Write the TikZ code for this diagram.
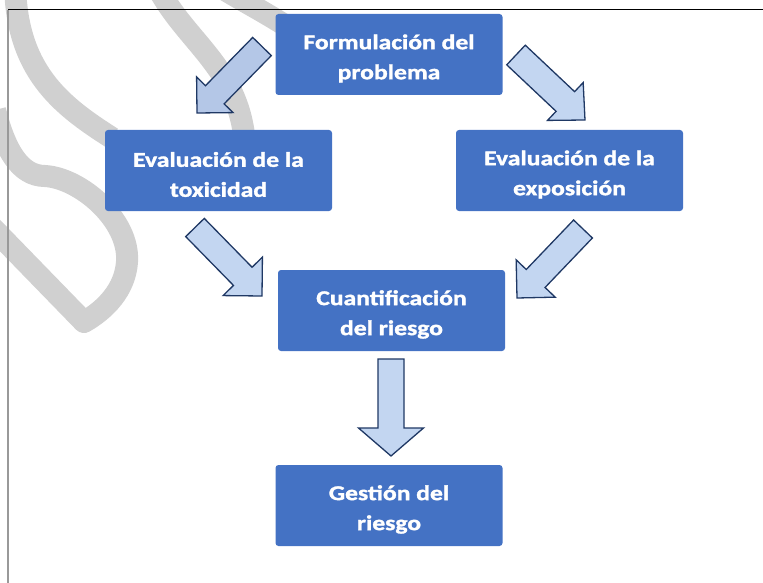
\documentclass[tikz,border=0pt]{standalone}
\usepackage{fontspec}
\setmainfont{Carlito}[FakeStretch=1.22, FakeBold=1.6]
\usetikzlibrary{calc}
\definecolor{boxblue}{HTML}{4472C4}
\definecolor{arrA}{HTML}{B4C7E7}
\definecolor{arrB}{HTML}{C3D6F1}
\definecolor{arrline}{HTML}{1F3864}
\definecolor{wmark}{HTML}{D0D0D0}
\newcommand\blockarr[7]{%
  \coordinate (#1s) at #2;
  \coordinate (#1t) at #3;
  \coordinate (#1h) at ($(#1t)!#6!(#1s)$);
  \draw[barrow, fill=#7]
    ($(#1s)!#4!90:(#1t)$) -- ($(#1h)!#4!90:(#1t)$) -- ($(#1h)!#5!90:(#1t)$)
    -- (#1t) -- ($(#1h)!#5!-90:(#1t)$) -- ($(#1h)!#4!-90:(#1t)$)
    -- ($(#1s)!#4!-90:(#1t)$) -- cycle;
}
\begin{document}
\begin{tikzpicture}[x=1pt,y=-1pt,
  box/.style={fill=boxblue, rounded corners=3pt, minimum width=227pt,
    minimum height=81pt, inner sep=0pt},
  lbl/.style={align=center, text=white, inner sep=0pt,
    font=\fontsize{21}{30}\selectfont\bfseries},
  barrow/.style={draw=arrline, line width=1.3pt, line join=miter},
  wm/.style={draw=wmark, line width=22pt, line cap=butt}]
\useasboundingbox (0,0) rectangle (763,583);
\begin{scope}
\clip (0,0) rectangle (763,583);
\path[wm] (15,-20) .. controls (15,70) and (60,105) .. (112,138);
\path[wm, line join=round] (-5,110) .. controls (5,150) and (20,176) .. (45,176)
  .. controls (80,178) and (130,220) .. (127,262)
  .. controls (125,290) and (105,310) .. (84,322) -- (-20,215);
\path[wm] (160,-8) .. controls (190,45) and (240,70) .. (245,145);
\path[wm] (225,-10) .. controls (250,5) and (270,15) .. (300,35);
\end{scope}
\draw[gray!80, line width=1.2pt] (8,10) -- (8,583);
\draw[black, line width=1pt] (8,10) -- (763,10);
\node[box] (form) at (389,54.5) {};
\node[box] (tox) at (218.5,170.5) {};
\node[box] (expo) at (569.5,170.5) {};
\node[box] (cuant) at (391.5,310.5) {};
\node[box] (gest) at (389,505.5) {};
\node[lbl] (formT) at ($(form.center)+(0,4)$) {Formulación del\\problema};
\node[lbl] (toxT) at ($(tox.center)+(0,4)$) {Evaluación de la\\toxicidad};
\node[lbl] (expoT) at ($(expo.center)+(0,4)$) {Evaluación de la\\exposición};
\node[lbl] (cuantT) at ($(cuant.center)+(0,4)$) {Cuantificación\\del riesgo};
\node[lbl] (gestT) at ($(gest.center)+(0,4)$) {Gestión del\\riesgo};
\blockarr{a1}{(262,46.5)}{(197,113)}{13pt}{25.5pt}{25.5pt}{arrA}
\blockarr{a2}{(516,55)}{(585,120)}{13.5pt}{26pt}{27pt}{arrB}
\blockarr{a3}{(195,227.5)}{(262,296)}{13pt}{27.5pt}{27.5pt}{arrB}
\blockarr{a4}{(583,229)}{(517,298)}{13pt}{27pt}{27pt}{arrB}
\blockarr{a5}{(391,359)}{(391,456)}{13pt}{32.5pt}{28pt}{arrB}
\end{tikzpicture}
\end{document}
